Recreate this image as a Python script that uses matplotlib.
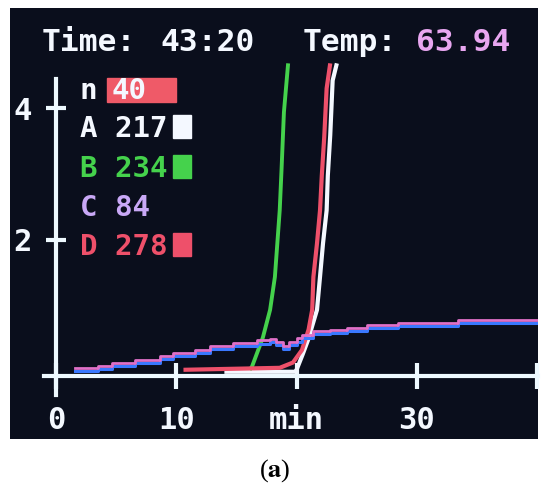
import matplotlib.pyplot as plt
from matplotlib.patches import Rectangle
from matplotlib.transforms import offset_copy

# values (x in minutes, y in signal units)
a_min = [14.0, 19.95, 20.0, 20.5, 20.95, 21.7, 21.95, 22.2, 22.5, 22.6, 22.8, 23.0, 23.35]
a_val = [0.0, 0.0, 0.03, 0.26, 0.48, 0.94, 1.44, 1.95, 2.45, 2.98, 3.59, 4.42, 4.68]

b_min = [16.1, 16.3, 17.2, 17.8, 18.2, 18.6, 18.75, 18.95, 19.3]
b_val = [0.03, 0.08, 0.52, 0.94, 1.44, 2.45, 3.06, 3.94, 4.68]

c_min = [1.6, 3.5, 4.7, 6.6, 8.65, 9.7, 11.55, 12.8, 14.7, 16.7, 17.8, 18.3,
         18.9, 19.4, 20.0, 20.45, 21.4, 22.8, 24.2, 25.85, 28.4, 33.4, 40.1]
c_val = [0.03, 0.06, 0.11, 0.15, 0.21, 0.26, 0.30, 0.36, 0.41, 0.45, 0.47, 0.42,
         0.36, 0.42, 0.48, 0.53, 0.59, 0.61, 0.64, 0.68, 0.71, 0.76, 0.76]

d_min = [10.6, 18.6, 19.7, 20.45, 21.0, 21.3, 21.4, 21.7, 21.95, 22.1, 22.3, 22.5, 22.8]
d_val = [0.03, 0.06, 0.14, 0.33, 0.64, 0.94, 1.44, 1.95, 2.45, 2.98, 3.56, 4.30, 4.68]

x_ticks = [0, 10, 20, 30, 40]
x_tick_labels = ["0", "10", "min", "30", ""]
y_ticks = [2, 4]

header = ["Time:", "43:20", "Temp:", "63.94"]
legend_names = ["A", "B", "C", "D"]
legend_counts = ["217", "234", "84", "278"]
n_value = "40"

SCREEN = "#0a0e1c"
AXIS = "#eef9ff"
WHITE = "#f4f8ff"
GREEN = "#45d24c"
LAVENDER = "#c9a8f6"
RED = "#ee506a"
PINK = "#e8a6f0"

plt.rcParams["font.family"] = ["DejaVu Sans Mono"]
plt.rcParams["font.weight"] = "bold"
plt.rcParams["mathtext.fontset"] = "stix"


def fx(px):
    return (px - 10) / 528


def fy(py):
    return (439 - py) / 431


fig = plt.figure(figsize=(5.5, 4.96), dpi=100, facecolor="white")
ax = fig.add_axes([10 / 550, 1 - 439 / 496, 528 / 550, 431 / 496])
ax.set_facecolor(SCREEN)

# curves
ax.plot(a_min, a_val, color=WHITE, lw=3, solid_capstyle="butt", zorder=3)
ax.plot(d_min, d_val, color=RED, lw=3, solid_capstyle="butt", zorder=4)
ax.plot(b_min, b_val, color=GREEN, lw=2.8, solid_capstyle="butt", zorder=3)
up = offset_copy(ax.transData, fig=fig, x=0, y=1.2, units="points")
down = offset_copy(ax.transData, fig=fig, x=0, y=-1.0, units="points")
ax.plot(c_min, c_val, color="#3a78ff", lw=2.2, drawstyle="steps-post",
        transform=down, zorder=5)
ax.plot(c_min, c_val, color="#e070c8", lw=2.0, drawstyle="steps-post",
        transform=up, zorder=5)

ax.set_xlim(-3.82, 40.07)
ax.set_ylim(-1.02, 5.52)

for side in ["top", "right"]:
    ax.spines[side].set_visible(False)
ax.spines["left"].set_position(("data", 0))
ax.spines["bottom"].set_position(("data", -0.06))
ax.spines["left"].set_bounds(-0.35, 4.44)
ax.spines["bottom"].set_bounds(-1.0, 40.07)
for side in ["left", "bottom"]:
    ax.spines[side].set_color(AXIS)
    ax.spines[side].set_linewidth(3)
    ax.spines[side].set_zorder(6)

ax.set_xticks(x_ticks)
ax.set_xticklabels(x_tick_labels)
ax.set_yticks(y_ticks)
ax.tick_params(axis="x", direction="inout", length=19, width=3, color=AXIS,
               pad=12, labelsize=22, labelcolor=WHITE)
ax.tick_params(axis="y", direction="inout", length=15, width=3, color=AXIS,
               pad=10, labelsize=22, labelcolor=WHITE)

# header line
ax.text(fx(42), fy(51), header[0], transform=ax.transAxes, color=WHITE,
        fontsize=22.5, va="baseline")
ax.text(fx(160), fy(51), header[1], transform=ax.transAxes, color=WHITE,
        fontsize=22.5, va="baseline")
ax.text(fx(303), fy(51), header[2], transform=ax.transAxes, color=WHITE,
        fontsize=22.5, va="baseline")
ax.text(fx(416), fy(51), header[3], transform=ax.transAxes, color=PINK,
        fontsize=22.5, va="baseline")

# legend block
ax.add_patch(Rectangle((fx(107), fy(102)), fx(176) - fx(107), fy(78) - fy(102),
                       transform=ax.transAxes, color="#ef5a68", zorder=2))
ax.text(fx(80), fy(99), "n", transform=ax.transAxes, color=WHITE,
        fontsize=21, va="baseline")
ax.text(fx(112), fy(99), n_value, transform=ax.transAxes, color=WHITE,
        fontsize=21, va="baseline", zorder=3)

row_colors = [WHITE, GREEN, LAVENDER, RED]
row_base = [137, 177, 216, 255]
for name, count, color, base in zip(legend_names, legend_counts, row_colors, row_base):
    ax.text(fx(80), fy(base), f"{name} {count}", transform=ax.transAxes,
            color=color, fontsize=21, va="baseline")
    if name != "C":
        ax.add_patch(Rectangle((fx(173), fy(base + 1)), fx(191) - fx(173), 23 / 431,
                               transform=ax.transAxes, color=color, zorder=2))

fig.text(0.5, 1 - 477 / 496, r"($\mathbf{a}$)", ha="center", va="baseline",
         fontsize=19, family="Liberation Serif", weight="normal", color="black")

fig.savefig("out.png", dpi=100, facecolor="white")
